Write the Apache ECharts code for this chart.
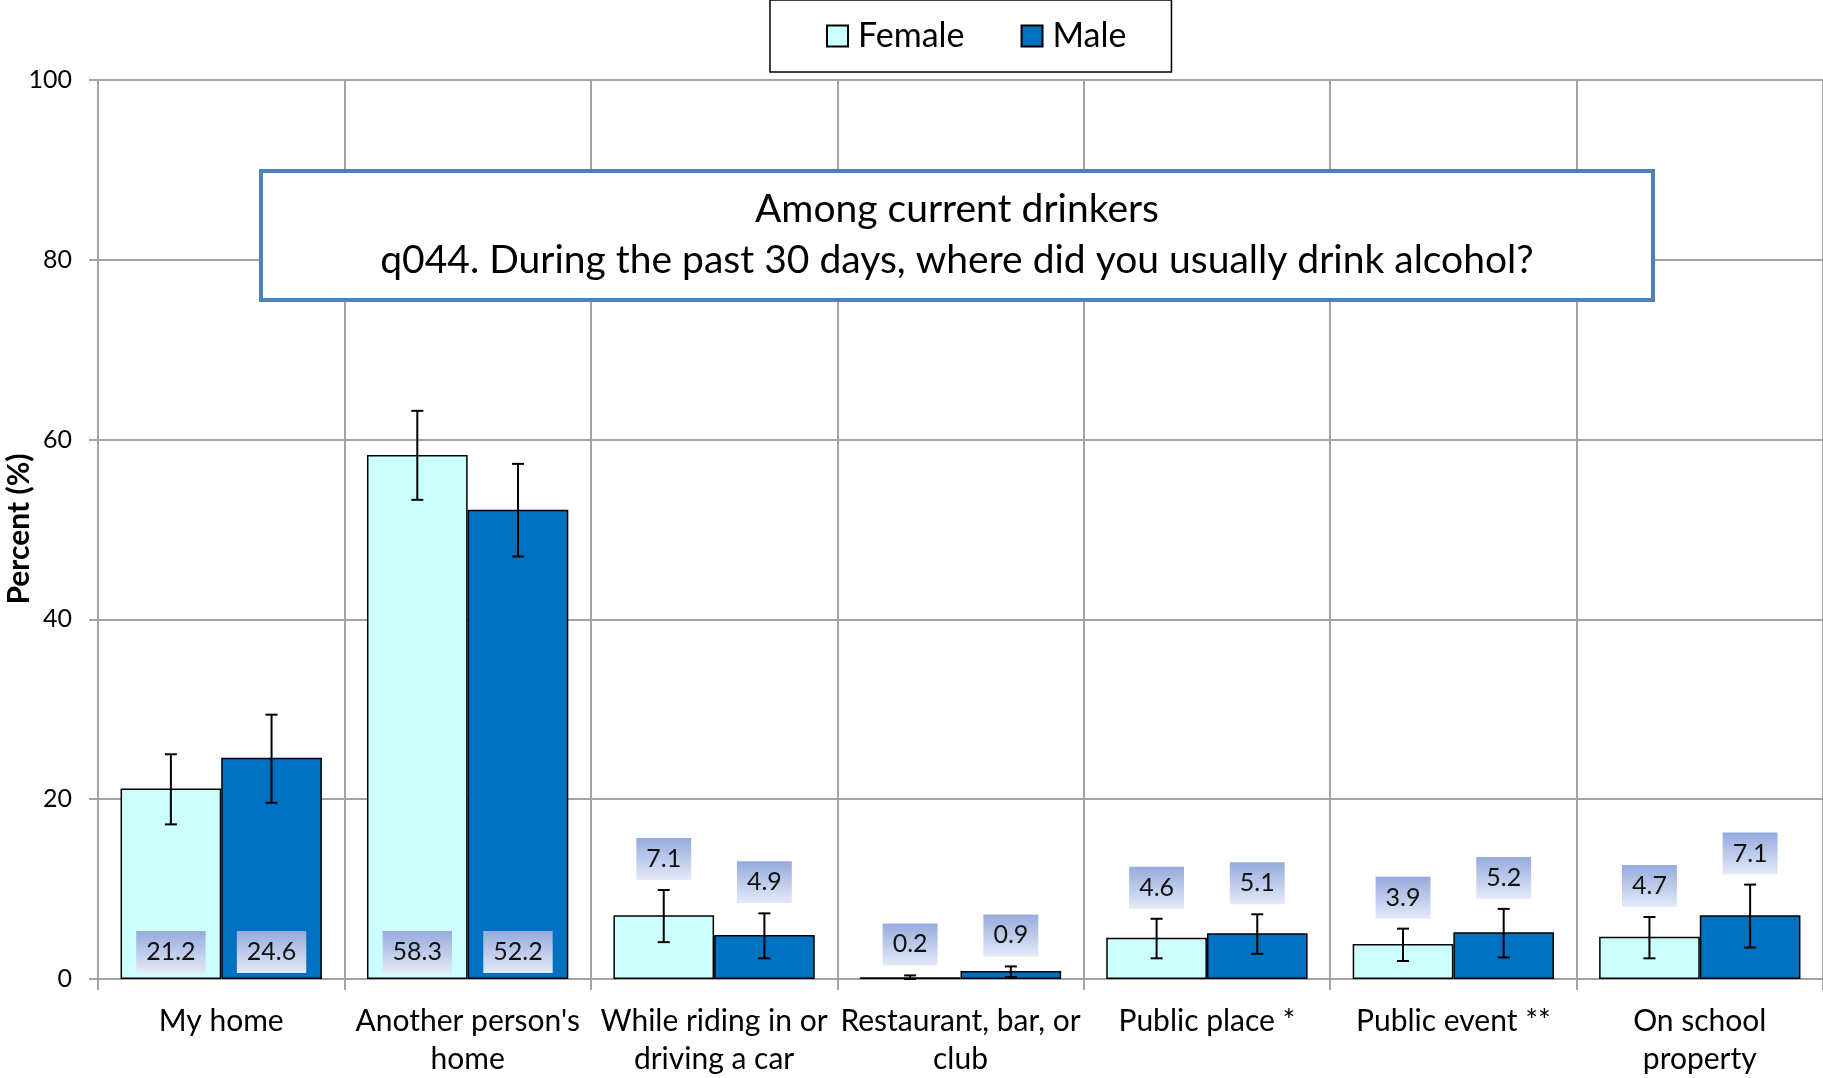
<!DOCTYPE html>
<html>
<head>
<meta charset="utf-8">
<script src="https://cdn.jsdelivr.net/npm/echarts@6/dist/echarts.min.js"></script>
<style>
html,body{margin:0;padding:0;background:#fff;}
#chart{width:1823px;height:1078px;}
</style>
</head>
<body>
<div id="chart"></div>
<script>
const categories = ['My home', "Another person's\nhome", 'While riding in or\ndriving a car', 'Restaurant, bar, or\nclub', 'Public place *', 'Public event **', 'On school\nproperty'];
const femaleValues = [21.2, 58.3, 7.1, 0.2, 4.6, 3.9, 4.7];
const maleValues   = [24.6, 52.2, 4.9, 0.9, 5.1, 5.2, 7.1];
const femaleLow  = [17.2, 53.3, 4.1, 0.0, 2.3, 2.0, 2.3];
const femaleHigh = [25.0, 63.2, 9.9, 0.4, 6.7, 5.6, 6.9];
const maleLow    = [19.6, 47.0, 2.3, 0.2, 2.8, 2.4, 3.5];
const maleHigh   = [29.4, 57.3, 7.3, 1.4, 7.2, 7.8, 10.5];
const titleLines = ['Among current drinkers', 'q044. During the past 30 days, where did you usually drink alcohol?'];
const yAxisTitle = 'Percent (%)';
const yMin = 0, yMax = 100, yStep = 20;

const FONT = 'Lato, "Open Sans", sans-serif';
const CAT_GAP = 0.183;
const INSIDE_MIN = 15;
const LABEL_FONT = '25px ' + FONT;
const LABEL_PADX = 10, LABEL_H = 42;

const measureCtx = document.createElement('canvas').getContext('2d');
function textWidth(t, font) { measureCtx.font = font; return measureCtx.measureText(t).width; }

const labelFill = new echarts.graphic.LinearGradient(0, 0, 0, 1, [
  {offset: 0, color: '#95ABDD'}, {offset: 1, color: '#E4EAF7'}
]);

function makeRender(side) {
  return function (params, api) {
    const idx = api.value(0);
    const v = api.value(1), lo = api.value(2), hi = api.value(3);
    const base = api.coord([idx, 0]);
    const band = api.size([1, 0])[0];
    const barW = band * (1 - CAT_GAP) / 2;
    const cx = base[0] + side * barW / 2;
    const yLo = api.coord([idx, lo])[1];
    const yHi = api.coord([idx, hi])[1];
    const cap = 6;
    const es = {stroke: '#000', lineWidth: 2};
    const children = [
      {type: 'line', shape: {x1: cx, y1: yLo, x2: cx, y2: yHi}, style: es},
      {type: 'line', shape: {x1: cx - cap, y1: yHi, x2: cx + cap, y2: yHi}, style: es},
      {type: 'line', shape: {x1: cx - cap, y1: yLo, x2: cx + cap, y2: yLo}, style: es}
    ];
    const txt = v.toFixed(1);
    const w = textWidth(txt, LABEL_FONT) + 2 * LABEL_PADX;
    const bottom = v >= INSIDE_MIN ? base[1] - 6 : yHi - 10;
    children.push({type: 'rect', shape: {x: cx - w / 2, y: bottom - LABEL_H, width: w, height: LABEL_H}, style: {fill: labelFill}});
    children.push({type: 'text', style: {text: txt, x: cx, y: bottom - LABEL_H / 2, align: 'center', verticalAlign: 'middle', font: LABEL_FONT, fill: '#111'}});
    return {type: 'group', children: children};
  };
}

function errData(vals, lows, highs) {
  return vals.map((v, i) => [i, v, lows[i], highs[i]]);
}

const gridColor = '#A3A3A3';
const chart = echarts.init(document.getElementById('chart'), null, {renderer: 'canvas'});
chart.setOption({
  animation: false,
  backgroundColor: '#fff',
  textStyle: {fontFamily: FONT},
  legend: {
    data: ['Female', 'Male'],
    left: 770, top: 0,
    padding: [19, 45, 19, 56],
    itemGap: 56,
    itemWidth: 21, itemHeight: 21,
    icon: 'rect',
    borderColor: '#000', borderWidth: 1.5,
    backgroundColor: '#fff',
    textStyle: {fontSize: 34, color: '#000', fontFamily: FONT, padding: [0, 0, 0, 5]}
  },
  grid: {left: 98, right: 0, top: 80, bottom: 99, containLabel: false, outerBoundsMode: 'none'},
  xAxis: {
    type: 'category',
    data: categories,
    axisLine: {lineStyle: {color: gridColor, width: 2}},
    axisTick: {show: true, length: 11, lineStyle: {color: gridColor, width: 2}},
    splitLine: {show: true, lineStyle: {color: gridColor, width: 2}},
    axisLabel: {interval: 0, fontSize: 30, lineHeight: 38, color: '#000', margin: 23, fontFamily: FONT}
  },
  yAxis: {
    type: 'value', min: yMin, max: yMax, interval: yStep,
    axisLine: {show: true, lineStyle: {color: gridColor, width: 2}},
    axisTick: {show: true, length: 9, lineStyle: {color: gridColor, width: 2}},
    splitLine: {show: true, lineStyle: {color: gridColor, width: 2}},
    axisLabel: {fontSize: 25, color: '#000', margin: 26, fontFamily: FONT}
  },
  series: [
    {name: 'Female', type: 'bar', data: femaleValues, barGap: '0%', barCategoryGap: (CAT_GAP * 100) + '%',
     itemStyle: {color: '#CCFFFF', borderColor: '#000', borderWidth: 1.5}},
    {name: 'Male', type: 'bar', data: maleValues,
     itemStyle: {color: '#0070C0', borderColor: '#000', borderWidth: 1.5}},
    {name: 'femaleErr', type: 'custom', renderItem: makeRender(-1), data: errData(femaleValues, femaleLow, femaleHigh), z: 5,
     encode: {x: 0, y: [1, 2, 3]}},
    {name: 'maleErr', type: 'custom', renderItem: makeRender(1), data: errData(maleValues, maleLow, maleHigh), z: 5,
     encode: {x: 0, y: [1, 2, 3]}}
  ],
  graphic: [{
    type: 'group', left: 259, top: 169, z: 100,
    children: [
      {type: 'rect', z: 100, shape: {x: 0, y: 0, width: 1392, height: 129}, style: {fill: '#ffffff', stroke: '#4F81BD', lineWidth: 4}},
      {type: 'text', z: 101, style: {text: titleLines[0], x: 696, y: 38, align: 'center', verticalAlign: 'middle', font: '39px ' + FONT, fill: '#000'}},
      {type: 'text', z: 101, style: {text: titleLines[1], x: 696, y: 89, align: 'center', verticalAlign: 'middle', font: '39px ' + FONT, fill: '#000'}}
    ]
  }, {
    type: 'text', z: 100, x: 19, y: 529, rotation: Math.PI / 2,
    style: {text: yAxisTitle, align: 'center', verticalAlign: 'middle', font: 'bold 30px ' + FONT, fill: '#000'}
  }]
});
</script>
</body>
</html>
